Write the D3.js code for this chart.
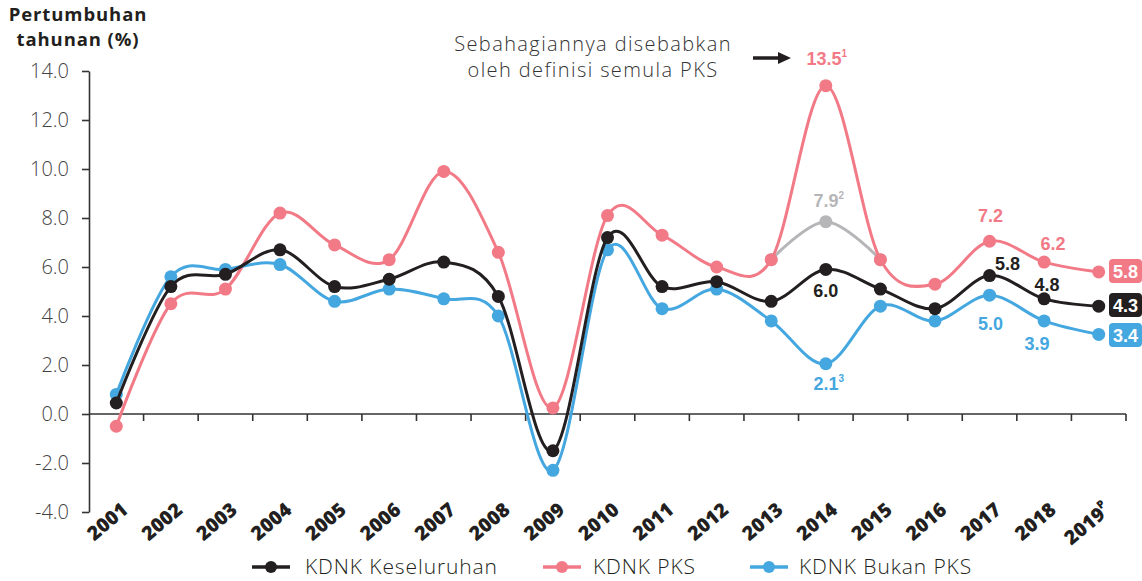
<!DOCTYPE html>
<html><head><meta charset="utf-8">
<script src="https://cdn.jsdelivr.net/npm/d3@7"></script>
<style>
body{margin:0;background:#fff;}
svg{display:block;}
</style></head>
<body><svg id="c" width="1142" height="581"></svg>
<script>
const years = ["2001","2002","2003","2004","2005","2006","2007","2008","2009","2010","2011","2012","2013","2014","2015","2016","2017","2018","2019"];
const yearLabels = ["2001","2002","2003","2004","2005","2006","2007","2008","2009","2010","2011","2012","2013","2014","2015","2016","2017","2018","2019"];
const keseluruhan = [0.45,5.2,5.7,6.7,5.2,5.5,6.2,4.8,-1.5,7.2,5.2,5.4,4.6,5.9,5.1,4.3,5.65,4.7,4.4];
const pks = [-0.5,4.5,5.1,8.2,6.9,6.3,9.9,6.6,0.25,8.1,7.3,6.0,6.3,13.4,6.3,5.3,7.05,6.2,5.8];
const bukanPks = [0.8,5.6,5.9,6.1,4.6,5.1,4.7,4.0,-2.3,6.7,4.3,5.1,3.8,2.05,4.4,3.8,4.85,3.8,3.25];
const greyYears = ["2013","2014","2015"];
const greyValues = [6.3,7.85,6.3];
const yTicks = [-4,-2,0,2,4,6,8,10,12,14];
const seriesNames = ["KDNK Keseluruhan","KDNK PKS","KDNK Bukan PKS"];

const colBlack = "#231f20", colPink = "#f27a87", colBlue = "#45a7df", colGrey = "#b6b6b9";

const svg = d3.select("#c");
const x = d3.scaleBand().domain(years).range([89,1126]).paddingInner(0).paddingOuter(0);
const cx = d => x(d) + x.bandwidth()/2;
const y = d3.scaleLinear().domain([-4,14]).range([512,71]);

// axis title
const tt = svg.append("text").attr("font-family","Open Sans, sans-serif").attr("font-weight",700)
  .attr("font-size",18.5).attr("fill","#231f20").attr("text-anchor","middle").attr("letter-spacing",0.9);
tt.append("tspan").attr("x",78).attr("y",21).text("Pertumbuhan");
tt.append("tspan").attr("x",78).attr("y",46).text("tahunan (%)");

// y axis
const yAxis = d3.axisLeft(y).tickValues(yTicks).tickFormat(d => d.toFixed(1)).tickSize(7).tickSizeOuter(0);
const gy = svg.append("g").attr("transform","translate(89,0)").call(yAxis);
gy.select(".domain").attr("stroke","#333").attr("stroke-width",1.6);
gy.selectAll(".tick line").attr("stroke","#333").attr("stroke-width",1.6);
gy.selectAll(".tick text").attr("font-family","Open Sans, sans-serif").attr("font-weight",300)
  .attr("font-size",20).attr("fill","#444").attr("x",-20);

// x axis at zero
const gx = svg.append("g");
gx.append("line").attr("x1",89).attr("x2",1126).attr("y1",y(0)).attr("y2",y(0)).attr("stroke","#333").attr("stroke-width",1.6);
const tickPos = years.slice(1).map(d => x(d)).concat([1126]);
gx.selectAll(".xt").data(tickPos).join("line").attr("class","xt")
  .attr("x1",d=>d).attr("x2",d=>d).attr("y1",y(0)).attr("y2",y(0)+7).attr("stroke","#333").attr("stroke-width",1.6);
// x labels rotated
const xl = svg.append("g").selectAll("text").data(years).join("text")
  .attr("transform",d=>`translate(${cx(d)+13},${512}) rotate(-40)`)
  .attr("text-anchor","end").attr("font-family","Open Sans, sans-serif").attr("font-weight",800)
  .attr("font-size",19.5).attr("fill","#231f20")
  .text((d,i)=>yearLabels[i]);
xl.filter(d=>d==="2019").append("tspan").attr("font-size",11).attr("dy",-9).text("P");

// lines
const line = d3.line().x(d=>cx(d[0])).y(d=>y(d[1])).curve(d3.curveCardinal.tension(0));
function drawSeries(xs, vals, col){
  const data = xs.map((d,i)=>[d,vals[i]]);
  svg.append("path").datum(data).attr("d",line).attr("fill","none").attr("stroke",col).attr("stroke-width",3);
  svg.append("g").selectAll("circle").data(data).join("circle")
    .attr("cx",d=>cx(d[0])).attr("cy",d=>y(d[1])).attr("r",6.5).attr("fill",col);
}
drawSeries(greyYears, greyValues, colGrey);
drawSeries(years, pks, colPink);
drawSeries(years, bukanPks, colBlue);
drawSeries(years, keseluruhan, colBlack);

// value labels
const lbl = (xv, yv, txt, col, sup) => {
  const t = svg.append("text").attr("x",xv).attr("y",yv).attr("text-anchor","middle")
    .attr("font-family","Liberation Sans, Arial, sans-serif").attr("font-weight",700)
    .attr("font-size",18).attr("fill",col).text(txt);
  if(sup){ t.append("tspan").attr("font-size",10).attr("dy",-8).text(sup); }
  return t;
};
lbl(cx("2014")+1, 65, "13.5", colPink, "1");
lbl(cx("2014")+3, 207, "7.9", colGrey, "2");
lbl(cx("2014"), 297, "6.0", colBlack);
lbl(cx("2014")+3, 390, "2.1", colBlue, "3");
lbl(cx("2017")+1, 222, "7.2", colPink);
lbl(cx("2017")+18, 270, "5.8", colBlack);
lbl(cx("2017")+1, 330, "5.0", colBlue);
lbl(cx("2018")+9, 250, "6.2", colPink);
lbl(cx("2018")+3, 291, "4.8", colBlack);
lbl(cx("2018")-7, 350, "3.9", colBlue);

// boxed end labels
const endLabels = [[pks[18],"5.8",colPink,271],[keseluruhan[18],"4.3",colBlack,305],[bukanPks[18],"3.4",colBlue,335]];
endLabels.forEach(e=>{
  svg.append("rect").attr("x",1109).attr("y",e[3]-12).attr("width",33).attr("height",24).attr("rx",4).attr("fill",e[2]);
  svg.append("text").attr("x",1125.5).attr("y",e[3]+6.5).attr("text-anchor","middle")
    .attr("font-family","Liberation Sans, Arial, sans-serif").attr("font-weight",700)
    .attr("font-size",18).attr("fill","#fff").text(e[1]);
});

// annotation
const an = svg.append("text").attr("font-family","Open Sans, sans-serif").attr("font-weight",300)
  .attr("font-size",20).attr("fill","#333").attr("text-anchor","middle").attr("letter-spacing",1.4);
an.append("tspan").attr("x",593).attr("y",51).text("Sebahagiannya disebabkan");
an.append("tspan").attr("x",593).attr("y",77).text("oleh definisi semula PKS");
svg.append("line").attr("x1",753).attr("x2",780).attr("y1",58).attr("y2",58).attr("stroke","#231f20").attr("stroke-width",3.5);
svg.append("path").attr("d","M778,52 L791,58 L778,64 Z").attr("fill","#231f20");

// legend
const leg = [[252,305,colBlack],[543,593,colPink],[750,799,colBlue]];
leg.forEach((l,i)=>{
  svg.append("line").attr("x1",l[0]).attr("x2",l[0]+38).attr("y1",567).attr("y2",567).attr("stroke",l[2]).attr("stroke-width",3.5);
  svg.append("circle").attr("cx",l[0]+19).attr("cy",567).attr("r",6).attr("fill",l[2]);
  svg.append("text").attr("x",l[1]).attr("y",574).attr("font-family","Open Sans, sans-serif").attr("font-weight",300)
    .attr("font-size",21).attr("fill","#231f20").attr("letter-spacing",0.9).text(seriesNames[i]);
});
</script></body></html>
